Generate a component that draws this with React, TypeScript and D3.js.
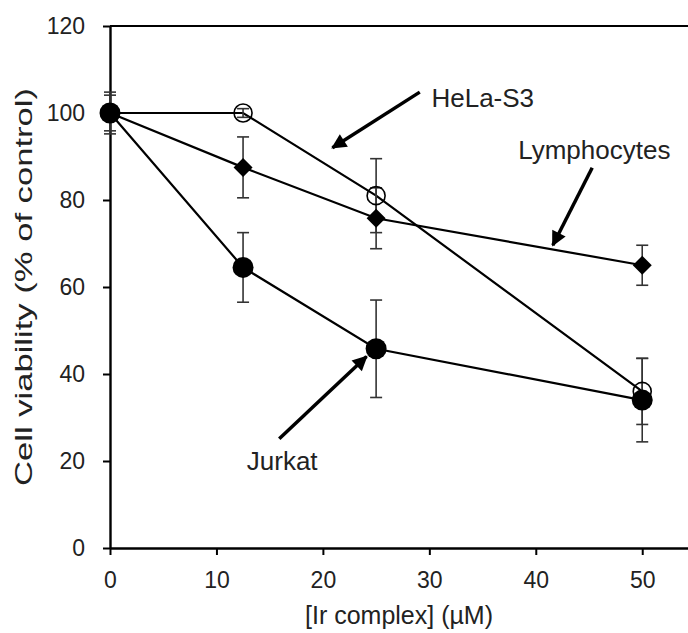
import React, { useEffect, useRef } from "react";
import * as d3 from "d3";

// concentrations (µM)
const doses = [0, 12.5, 25, 50];

// viability (% of control)
const hela = [100, 100, 81, 36];
const helaErr = [0.5, 1, 8.5, 7.6];
const lympho = [100, 87.5, 75.8, 65];
const lymphoErr = [4.1, 7, 7, 4.6];
const jurkat = [100, 64.5, 45.8, 34];
const jurkatErr = [4.8, 8, 11.2, 9.6];

const xTicks = [0, 10, 20, 30, 40, 50];
const yTicks = [0, 20, 40, 60, 80, 100, 120];

// annotation text + arrow (tail -> tip), in data units
const notes = [
  { label: "HeLa-S3", tx: 30.2, ty: 101.4, from: [29.1, 104.8], to: [20.9, 92.0] },
  { label: "Lymphocytes", tx: 38.35, ty: 89.4, from: [45.3, 87.4], to: [41.6, 69.6] },
  { label: "Jurkat", tx: 12.85, ty: 17.9, from: [15.9, 25.1], to: [24.1, 44.0] },
];

export default function App() {
  const svgRef = useRef<SVGSVGElement | null>(null);

  useEffect(() => {
    if (!svgRef.current) return;
    const svg = d3.select(svgRef.current);
    svg.selectAll("*").remove();

    const W = 688;
    const H = 633;
    const font = "'Liberation Sans', Arial, sans-serif";

    const x = d3.scaleLinear().domain([0, 54.3]).range([110, 688]);
    const y = d3.scaleLinear().domain([0, 120]).range([548, 26]);

    const defs = svg.append("defs");
    defs
      .append("marker")
      .attr("id", "head")
      .attr("viewBox", "0 0 10 10")
      .attr("refX", 9)
      .attr("refY", 5)
      .attr("markerUnits", "userSpaceOnUse")
      .attr("markerWidth", 17)
      .attr("markerHeight", 15)
      .attr("orient", "auto")
      .append("path")
      .attr("d", "M0,0 L10,5 L0,10 z")
      .attr("fill", "#000");

    // top frame line
    svg
      .append("line")
      .attr("x1", x(0))
      .attr("x2", W)
      .attr("y1", y(120))
      .attr("y2", y(120))
      .attr("stroke", "#000")
      .attr("stroke-width", 2);

    const yAxis = svg
      .append("g")
      .attr("transform", `translate(${x(0)},0)`)
      .call(d3.axisLeft(y).tickValues(yTicks).tickSize(7).tickSizeOuter(0).tickPadding(18));

    const xAxis = svg
      .append("g")
      .attr("transform", `translate(0,${y(0)})`)
      .call(d3.axisBottom(x).tickValues(xTicks).tickSize(7).tickSizeOuter(0).tickPadding(17));

    [yAxis, xAxis].forEach((a) => {
      a.select(".domain").attr("stroke-width", 2.4);
      a.selectAll(".tick line").attr("stroke-width", 2);
      a.selectAll("text")
        .attr("font-family", font)
        .attr("font-size", 23)
        .attr("fill", "#222");
    });

    svg
      .append("text")
      .attr("x", (x(0) + W) / 2)
      .attr("y", 624)
      .attr("text-anchor", "middle")
      .attr("font-family", font)
      .attr("font-size", 25)
      .attr("fill", "#222")
      .text("[Ir complex] (\u00b5M)");

    svg
      .append("text")
      .attr("transform", `translate(32,${(y(0) + y(120)) / 2}) rotate(-90)`)
      .attr("text-anchor", "middle")
      .attr("font-family", font)
      .attr("font-size", 24)
      .attr("fill", "#222")
      .attr("textLength", 398)
      .attr("lengthAdjust", "spacingAndGlyphs")
      .text("Cell viability (% of control)");

    const series = [
      { vals: hela, err: helaErr, shape: "open" },
      { vals: lympho, err: lymphoErr, shape: "diamond" },
      { vals: jurkat, err: jurkatErr, shape: "filled" },
    ];

    const line = d3
      .line<number>()
      .x((_, i) => x(doses[i]))
      .y((d) => y(d));

    series.forEach((s) => {
      svg
        .append("path")
        .attr("d", line(s.vals))
        .attr("fill", "none")
        .attr("stroke", "#000")
        .attr("stroke-width", 2.2);
    });

    // error bars
    series.forEach((s) => {
      const g = svg.append("g").attr("stroke", "#333").attr("stroke-width", 1.6);
      s.vals.forEach((v, i) => {
        const cx = x(doses[i]);
        const hi = y(v + s.err[i]);
        const lo = y(v - s.err[i]);
        g.append("line").attr("x1", cx).attr("x2", cx).attr("y1", hi).attr("y2", lo);
        g.append("line").attr("x1", cx - 6).attr("x2", cx + 6).attr("y1", hi).attr("y2", hi);
        g.append("line").attr("x1", cx - 6).attr("x2", cx + 6).attr("y1", lo).attr("y2", lo);
      });
    });

    // markers: diamonds, then filled circles, then open circles on top
    [series[1], series[2], series[0]].forEach((s) => {
      s.vals.forEach((v, i) => {
        const cx = x(doses[i]);
        const cy = y(v);
        if (s.shape === "diamond") {
          const r = 9.5;
          svg
            .append("path")
            .attr("d", `M${cx},${cy - r}L${cx + r},${cy}L${cx},${cy + r}L${cx - r},${cy}Z`)
            .attr("fill", "#000");
        } else if (s.shape === "filled") {
          svg.append("circle").attr("cx", cx).attr("cy", cy).attr("r", 10.5).attr("fill", "#000");
        } else {
          svg
            .append("circle")
            .attr("cx", cx)
            .attr("cy", cy)
            .attr("r", 9)
            .attr("fill", "none")
            .attr("stroke", "#000")
            .attr("stroke-width", 1.6);
        }
      });
    });

    // annotations
    notes.forEach((n) => {
      svg
        .append("line")
        .attr("x1", x(n.from[0]))
        .attr("y1", y(n.from[1]))
        .attr("x2", x(n.to[0]))
        .attr("y2", y(n.to[1]))
        .attr("stroke", "#000")
        .attr("stroke-width", 3.5)
        .attr("marker-end", "url(#head)");
      svg
        .append("text")
        .attr("x", x(n.tx))
        .attr("y", y(n.ty))
        .attr("font-family", font)
        .attr("font-size", 26)
        .attr("fill", "#222")
        .text(n.label);
    });

    svg.attr("width", W).attr("height", H);
  }, []);

  return (
    <svg
      ref={svgRef}
      width={688}
      height={633}
      style={{ position: "absolute", left: 0, top: 0, background: "#fff" }}
    />
  );
}
